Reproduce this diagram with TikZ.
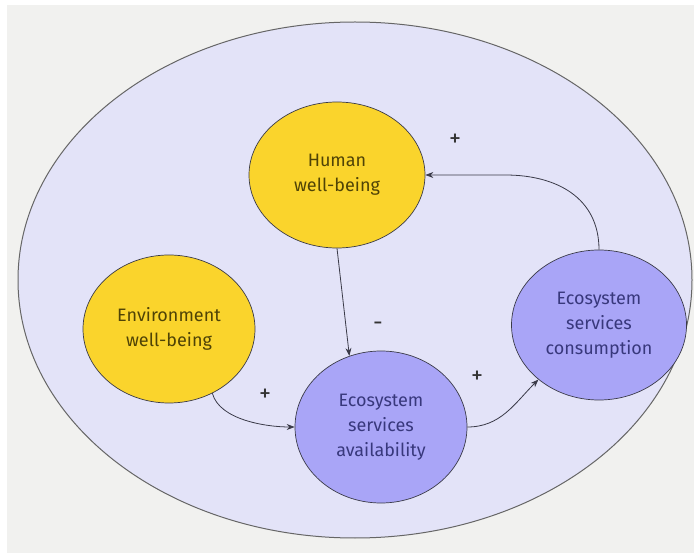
\documentclass[tikz,border=0pt]{standalone}
\usepackage{fontspec}
\setmainfont{Fira Sans}
\usetikzlibrary{shapes.geometric,arrows.meta,calc}
\definecolor{bgray}{HTML}{F1F1EF}
\definecolor{bigfill}{HTML}{E3E3F8}
\definecolor{yel}{HTML}{FAD42C}
\definecolor{pur}{HTML}{A9A5F7}
\definecolor{ytext}{HTML}{4F4306}
\definecolor{ptext}{HTML}{38387C}
\definecolor{lin}{HTML}{3A3A48}
\tikzset{
  bubble/.style={ellipse, draw=lin, line width=0.7pt, inner sep=0pt, align=center,
    font=\fontsize{18}{25}\selectfont},
  ybub/.style={bubble, fill=yel, text=ytext},
  pbub/.style={bubble, fill=pur, text=ptext},
  arr/.style={draw=lin, line width=0.8pt, -{Stealth[length=8pt,width=6pt]}},
  sign/.style={font=\fontsize{24}{24}\selectfont, text=black!80, inner sep=0pt}
}
\begin{document}
\begin{tikzpicture}[x=1pt,y=1pt]
\useasboundingbox (0,0) rectangle (694,555);
\fill[white] (0,0) rectangle (694,555);
\fill[bgray] (7,2) rectangle (694,550);
\node[ellipse, draw=black!60, line width=1pt, fill=bigfill, minimum width=674pt, minimum height=516pt, inner sep=0pt] (world) at (355,275) {};
\node[ybub, minimum width=176pt, minimum height=146pt] (hum) at (337,380) {Human\\well-being};
\node[ybub, minimum width=172pt, minimum height=148pt] (env) at (169,226) {Environment\\well-being};
\node[pbub, minimum width=172pt, minimum height=152pt] (avail) at (381,128) {Ecosystem\\services\\availability};
\node[pbub, minimum width=175pt, minimum height=150pt] (con) at (599,230) {Ecosystem\\services\\consumption};
\draw[arr] (con.north) to[out=90,in=0,looseness=1.1] ($(hum.east)+(80,0)$) -- (hum.east);
\draw[arr] (hum.south) -- (avail.114);
\draw[arr] (env.-56) to[out=-75,in=180,looseness=0.8] (avail.west);
\draw[arr] (avail.east) to[out=0,in=225] (con.222);
\node[sign] (p1) at (455,415) {+};
\node[sign] (m1) at (378,229) {-};
\node[sign] (p2) at (265,160) {+};
\node[sign] (p3) at (477,178) {+};
\end{tikzpicture}
\end{document}
